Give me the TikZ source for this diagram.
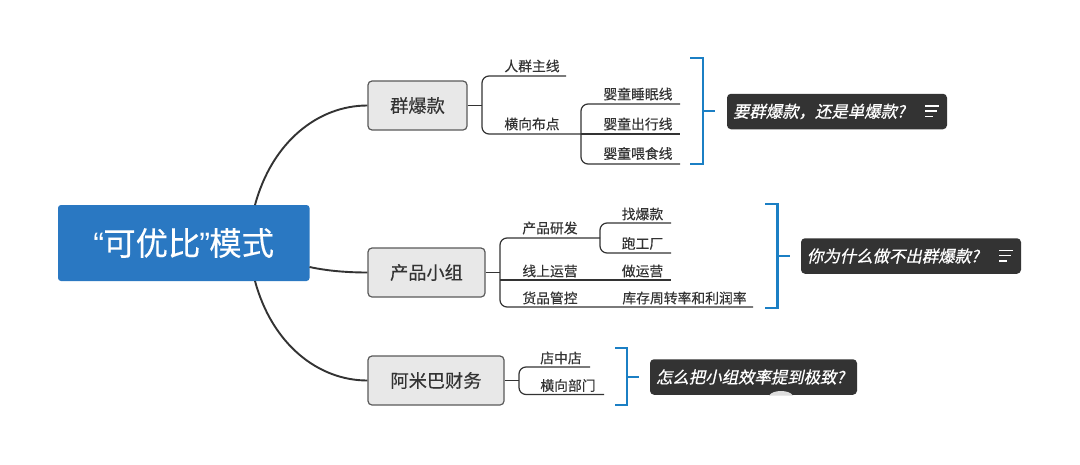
\documentclass[tikz,border=0pt]{standalone}
\usepackage{fontspec}
\setmainfont[FakeBold=0.25]{Noto Sans CJK SC}
\newfontfamily\slantcjk[FakeSlant=0.22,FakeBold=0.8]{Noto Sans CJK SC}
\newfontfamily\quotefont{Liberation Sans}
\definecolor{rootblue}{HTML}{2A78C2}
\definecolor{topicfill}{HTML}{E8E8E8}
\definecolor{topicline}{HTML}{5A5A5A}
\definecolor{inkdark}{HTML}{333333}
\definecolor{calloutfill}{HTML}{333333}
\definecolor{bracketblue}{HTML}{1B7FC4}
\definecolor{bumpgrey}{HTML}{DDDDDD}
\tikzset{
  rootbox/.style={fill=rootblue,rounded corners=3pt,inner sep=0pt,minimum width=251.5pt,minimum height=76pt,text=white,font=\fontsize{32.4}{36}\selectfont},
  topicbox/.style={draw=topicline,fill=topicfill,line width=1.2pt,rounded corners=4pt,inner sep=0pt,minimum height=49pt,text=inkdark,font=\fontsize{18.2}{22}\selectfont},
  leaf/.style={inner sep=0pt,text=inkdark,font=\fontsize{13.8}{16}\selectfont},
  callout/.style={fill=calloutfill,rounded corners=4pt,inner sep=0pt,minimum height=35.5pt,text=white,font=\slantcjk\fontsize{16.4}{20}\selectfont},
  trunk/.style={draw=inkdark,line width=1.9pt},
  branch/.style={draw=inkdark,line width=1.2pt,rounded corners=7pt},
  twig/.style={draw=inkdark,line width=1.2pt},
  bracketline/.style={draw=bracketblue,line width=2.2pt},
  iconline/.style={draw=white,line width=1.1pt}
}
\begin{document}
\begin{tikzpicture}[x=1pt,y=-1pt]
\useasboundingbox (0,0) rectangle (1080,464);
\fill[white] (0,0) rectangle (1080,464);

% main nodes
\node[rootbox] (root) at (183.75,243) {{\quotefont “}\kern-1pt 可优比\kern-1pt{\quotefont ”}\kern-1pt 模式};
\node[topicbox,minimum width=99pt] (t1) at (417.5,105.5) {群爆款};
\node[topicbox,minimum width=117pt] (t2) at (426.5,272.5) {产品小组};
\node[topicbox,minimum width=136pt] (t3) at (436,380.5) {阿米巴财务};

% trunk curves
\coordinate (r1) at (255,205);
\coordinate (r2) at (309.5,267);
\coordinate (r3) at (255,281);
\draw[trunk] (r1) .. controls (272,142) and (318,105.5) .. (t1.west);
\draw[trunk] (r2) .. controls (328,271) and (348,272.5) .. (t2.west);
\draw[trunk] (r3) .. controls (272,344) and (318,380.5) .. (t3.west);

% group 1
\node[leaf] (a1) at (532,66) {人群主线};
\node[leaf] (a2) at (532,124) {横向布点};
\node[leaf] (a21) at (638,94) {婴童睡眠线};
\node[leaf] (a22) at (638,124) {婴童出行线};
\node[leaf] (a23) at (638,153.5) {婴童喂食线};
\coordinate (a1e) at (566,76);
\coordinate (a2e) at (581,134);
\coordinate (a21e) at (680,104);
\coordinate (a22e) at (680,134);
\coordinate (a23e) at (680,164);
\coordinate (ja) at (482,105.5);
\draw[twig] (t1.east) -- (ja);
\draw[branch] (a1e) -- (482,76) -- (482,134) -- (a2e);
\draw[branch] (a21e) -- (581,104) -- (581,164) -- (a23e);
\draw[twig] (a2e) -- (a22e);

% group 2
\node[leaf] (b1) at (550,228) {产品研发};
\node[leaf] (b2) at (550,271) {线上运营};
\node[leaf] (b3) at (550,298) {货品管控};
\node[leaf] (b11) at (642.5,214) {找爆款};
\node[leaf] (b12) at (642.5,243.5) {跑工厂};
\node[leaf] (b21) at (642.5,271) {做运营};
\node[leaf] (b31) at (684.5,298) {库存周转率和利润率};
\coordinate (b1e) at (600,238);
\coordinate (b2s) at (500,280);
\coordinate (b2e) at (671,280);
\coordinate (b3e) at (753,307);
\coordinate (b11e) at (671,223);
\coordinate (b12e) at (671,253);
\coordinate (jb) at (500,272.5);
\draw[twig] (t2.east) -- (jb);
\draw[branch] (b1e) -- (500,238) -- (500,307) -- (b3e);
\draw[twig] (b2s) -- (b2e);
\draw[branch] (b11e) -- (600,223) -- (600,253) -- (b12e);

% group 3
\node[leaf] (c1) at (561,358) {店中店};
\node[leaf] (c2) at (568,385.5) {横向部门};
\coordinate (c1e) at (590,367);
\coordinate (c2e) at (604,394.5);
\coordinate (jc) at (519,380.5);
\draw[twig] (t3.east) -- (jc);
\draw[branch] (c1e) -- (519,367) -- (519,394.5) -- (c2e);

% callouts
\node[callout,minimum width=220pt,text width=208pt,align=left] (n1) at (837,111.5) {要群爆款，还是单爆款?};
\node[callout,minimum width=220pt,text width=208pt,align=left] (n2) at (911,256) {你为什么做不出群爆款?};
\node[callout,minimum width=207pt,text width=195pt,align=left] (n3) at (753.5,377) {怎么把小组效率提到极致?};
\fill[bumpgrey] (769,395.5) .. controls (773,389.5) and (789,389.5) .. (793,395.5) -- cycle;

% note icons
\draw[iconline] (925,106) -- (939,106) (925,111) -- (937,111) (925,116.5) -- (933,116.5);
\draw[iconline] (999,250.5) -- (1013,250.5) (999,255.5) -- (1011,255.5) (999,261) -- (1007,261);

% brackets
\coordinate (k1a) at (690,58);
\coordinate (k1b) at (690,164);
\coordinate (k2a) at (765,204);
\coordinate (k2b) at (765,308);
\coordinate (k3a) at (615,348);
\coordinate (k3b) at (615,405);
\coordinate (k1t) at (715,111);
\coordinate (k2t) at (790,256);
\coordinate (k3t) at (639,377);
\draw[bracketline] (k1a) -| (703,164) -- (k1b);
\draw[bracketline] (703,111) -- (k1t);
\draw[bracketline] (k2a) -| (777.5,308) -- (k2b);
\draw[bracketline] (777.5,256) -- (k2t);
\draw[bracketline] (k3a) -| (627,405) -- (k3b);
\draw[bracketline] (627,377) -- (k3t);
\end{tikzpicture}
\end{document}
